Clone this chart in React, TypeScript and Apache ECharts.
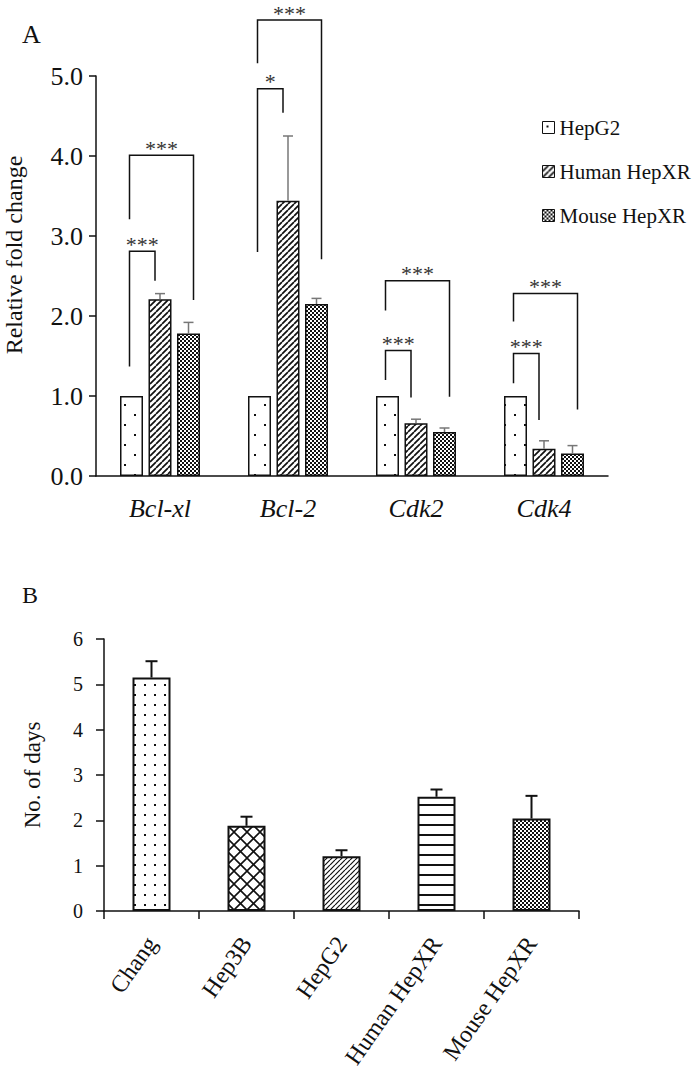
import React, { useEffect, useRef } from 'react';
import * as echarts from 'echarts';

// ---------- Panel A data ----------
const genes = ['Bcl-xl', 'Bcl-2', 'Cdk2', 'Cdk4'];
const seriesNames = ['HepG2', 'Human HepXR', 'Mouse HepXR'];
const hepg2Fold = [1.0, 1.0, 1.0, 1.0];
const humanFold = [2.21, 3.44, 0.66, 0.34];
const mouseFold = [1.78, 2.15, 0.55, 0.28];
const humanFoldErr = [0.07, 0.81, 0.05, 0.1];
const mouseFoldErr = [0.14, 0.07, 0.05, 0.1];
const foldMin = 0;
const foldMax = 5;
const foldStep = 1;

// significance brackets: gene index, compared bar (1 = Human, 2 = Mouse), foot heights and top height
const brackets = [
  { gene: 0, to: 1, left: 1.37, right: 2.44, top: 2.81, label: '***' },
  { gene: 0, to: 2, left: 3.21, right: 2.2, top: 4.01, label: '***' },
  { gene: 1, to: 1, left: 2.8, right: 4.54, top: 4.84, label: '*' },
  { gene: 1, to: 2, left: 5.16, right: 2.71, top: 5.7, label: '***' },
  { gene: 2, to: 1, left: 1.2, right: 0.98, top: 1.57, label: '***' },
  { gene: 2, to: 2, left: 2.07, right: 0.99, top: 2.44, label: '***' },
  { gene: 3, to: 1, left: 1.16, right: 0.7, top: 1.53, label: '***' },
  { gene: 3, to: 2, left: 1.93, right: 0.83, top: 2.28, label: '***' },
];

// ---------- Panel B data ----------
const cellLines = ['Chang', 'Hep3B', 'HepG2', 'Human HepXR', 'Mouse HepXR'];
const days = [5.15, 1.88, 1.21, 2.52, 2.04];
const daysErr = [0.36, 0.2, 0.13, 0.16, 0.5];
const daysMin = 0;
const daysMax = 6;
const daysStep = 1;

const FONT = "'Liberation Serif', serif";
const INK = '#111';
const BAR_W = 23;
const BAR_GAP = 5.5;
const STEP = BAR_W + BAR_GAP;

function makePattern(w: number, h: number, draw: (ctx: CanvasRenderingContext2D) => void) {
  const c = document.createElement('canvas');
  c.width = w;
  c.height = h;
  const ctx = c.getContext('2d') as CanvasRenderingContext2D;
  ctx.fillStyle = '#fff';
  ctx.fillRect(0, 0, w, h);
  ctx.fillStyle = INK;
  ctx.strokeStyle = INK;
  draw(ctx);
  return { image: c.toDataURL(), repeat: 'repeat', imageWidth: w, imageHeight: h };
}

function diag(ctx: CanvasRenderingContext2D, s: number, lw: number, back = false) {
  ctx.lineWidth = lw;
  ctx.beginPath();
  for (let k = -1; k <= 1; k++) {
    if (!back) {
      ctx.moveTo(k * s, s);
      ctx.lineTo(k * s + s, 0);
    } else {
      ctx.moveTo(k * s, 0);
      ctx.lineTo(k * s + s, s);
    }
  }
  ctx.stroke();
}

function buildPatterns() {
  return {
    sparseDots: makePattern(20, 20, (ctx) => {
      ctx.fillRect(4, 4, 2, 2);
      ctx.fillRect(14, 14, 2, 2);
    }),
    hatchA: makePattern(6, 6, (ctx) => diag(ctx, 6, 1.7)),
    checker: makePattern(4, 4, (ctx) => {
      ctx.fillRect(0, 0, 2, 2);
      ctx.fillRect(2, 2, 2, 2);
    }),
    gridDots: makePattern(10, 10, (ctx) => {
      ctx.fillRect(4, 4, 2, 2);
    }),
    lattice: makePattern(13, 13, (ctx) => {
      diag(ctx, 13, 1.6);
      diag(ctx, 13, 1.6, true);
    }),
    hatchB: makePattern(5, 5, (ctx) => diag(ctx, 5, 1.2)),
    horiz: makePattern(10, 10, (ctx) => {
      ctx.fillRect(0, 4, 10, 2);
    }),
  };
}

export default function App() {
  const ref = useRef<HTMLDivElement>(null);

  useEffect(() => {
    document.body.style.margin = '0';
    if (!ref.current) return;
    const chart = echarts.init(ref.current, null, { renderer: 'svg' });
    const P = buildPatterns();
    const foldPatterns = [P.sparseDots, P.hatchA, P.checker];
    const foldData = [hepg2Fold, humanFold, mouseFold];
    const dayPatterns = [P.gridDots, P.lattice, P.hatchB, P.horiz, P.checker];

    const axisLine = { show: true, lineStyle: { color: INK, width: 1.5 } };

    const barSeriesA = seriesNames.map((name, i) => ({
      name,
      type: 'bar',
      xAxisIndex: 0,
      yAxisIndex: 0,
      barWidth: BAR_W,
      barGap: (BAR_GAP / BAR_W) * 100 + '%',
      data: foldData[i],
      itemStyle: { color: foldPatterns[i], borderColor: INK, borderWidth: 1.5 },
      z: 2,
    }));

    const errSeriesA = [
      { idx: 1, vals: humanFold, errs: humanFoldErr },
      { idx: 2, vals: mouseFold, errs: mouseFoldErr },
    ].map((s) => ({
      name: 'err-' + seriesNames[s.idx],
      type: 'custom',
      xAxisIndex: 0,
      yAxisIndex: 0,
      z: 3,
      data: s.vals.map((v, i) => [i, v, v + s.errs[i]]),
      renderItem: (_params: any, api: any) => {
        const base = api.coord([api.value(0), api.value(1)]);
        const top = api.coord([api.value(0), api.value(2)]);
        const x = base[0] + (s.idx - 1) * STEP;
        const st = { stroke: '#777', lineWidth: 1.5 };
        return {
          type: 'group',
          children: [
            { type: 'line', shape: { x1: x, y1: base[1], x2: x, y2: top[1] }, style: st },
            { type: 'line', shape: { x1: x - 5, y1: top[1], x2: x + 5, y2: top[1] }, style: st },
          ],
        };
      },
    }));

    const bracketSeries = {
      name: 'significance',
      type: 'custom',
      xAxisIndex: 0,
      yAxisIndex: 0,
      z: 4,
      clip: false,
      data: brackets.map((b) => [b.gene, b.top]),
      renderItem: (params: any, api: any) => {
        const b = brackets[params.dataIndex];
        const c = api.coord([b.gene, 0]);
        const xl = c[0] - STEP - 2;
        const xr = c[0] + (b.to - 1) * STEP + (b.to === 2 ? 5 : -5);
        const yl = api.coord([b.gene, b.left])[1];
        const yr = api.coord([b.gene, b.right])[1];
        const yt = api.coord([b.gene, b.top])[1];
        return {
          type: 'group',
          children: [
            {
              type: 'polyline',
              shape: { points: [[xl, yl], [xl, yt], [xr, yt], [xr, yr]] },
              style: { stroke: INK, lineWidth: 1.5, fill: 'none' },
            },
            {
              type: 'text',
              style: {
                text: b.label,
                x: (xl + xr) / 2,
                y: yt - 7,
                align: 'center',
                verticalAlign: 'middle',
                fontSize: 22,
                fontFamily: FONT,
                fill: '#333',
              },
            },
          ],
        };
      },
    };

    const barSeriesB = {
      name: 'No. of days',
      type: 'bar',
      xAxisIndex: 1,
      yAxisIndex: 1,
      barWidth: 38,
      z: 2,
      data: days.map((v, i) => ({
        value: v,
        itemStyle: { color: dayPatterns[i], borderColor: INK, borderWidth: 2 },
      })),
    };

    const errSeriesB = {
      name: 'err-days',
      type: 'custom',
      xAxisIndex: 1,
      yAxisIndex: 1,
      z: 3,
      data: days.map((v, i) => [i, v, v + daysErr[i]]),
      renderItem: (_params: any, api: any) => {
        const base = api.coord([api.value(0), api.value(1)]);
        const top = api.coord([api.value(0), api.value(2)]);
        const st = { stroke: INK, lineWidth: 2 };
        return {
          type: 'group',
          children: [
            { type: 'line', shape: { x1: base[0], y1: base[1], x2: base[0], y2: top[1] }, style: st },
            { type: 'line', shape: { x1: base[0] - 6, y1: top[1], x2: base[0] + 6, y2: top[1] }, style: st },
          ],
        };
      },
    };

    const option: any = {
      animation: false,
      backgroundColor: '#fff',
      textStyle: { fontFamily: FONT, color: INK },
      title: [
        { text: 'A', left: 17, top: 16, textStyle: { fontFamily: FONT, fontSize: 26, fontWeight: 'normal', color: INK } },
        { text: 'B', left: 17, top: 578, textStyle: { fontFamily: FONT, fontSize: 24, fontWeight: 'normal', color: INK } },
      ],
      legend: {
        data: seriesNames,
        orient: 'vertical',
        left: 537,
        top: 112,
        itemWidth: 12,
        itemHeight: 12,
        itemGap: 23,
        icon: 'rect',
        selectedMode: false,
        textStyle: { fontFamily: FONT, fontSize: 21, color: INK },
        itemStyle: { borderColor: INK, borderWidth: 1 },
      },
      grid: [
        { left: 96, right: 86, top: 76, bottom: 595, containLabel: false, outerBoundsMode: 'none' },
        { left: 104, right: 115, top: 639, bottom: 160, containLabel: false, outerBoundsMode: 'none' },
      ],
      xAxis: [
        {
          type: 'category',
          gridIndex: 0,
          data: genes,
          axisLine,
          axisTick: { show: false },
          axisLabel: { fontFamily: FONT, fontSize: 26, fontStyle: 'italic', color: INK, margin: 19 },
        },
        {
          type: 'category',
          gridIndex: 1,
          data: cellLines,
          axisLine,
          axisTick: { show: true, length: 8, lineStyle: { color: INK, width: 1.5 } },
          axisLabel: { fontFamily: FONT, fontSize: 24, color: INK, rotate: 55, margin: 28, interval: 0 },
        },
      ],
      yAxis: [
        {
          type: 'value',
          gridIndex: 0,
          min: foldMin,
          max: foldMax,
          interval: foldStep,
          name: 'Relative fold change',
          nameLocation: 'middle',
          nameGap: 70,
          nameTextStyle: { fontFamily: FONT, fontSize: 24, color: INK, padding: [0, 0, 0, 42] },
          axisLine,
          axisTick: { show: true, length: 7, lineStyle: { color: INK, width: 1.5 } },
          splitLine: { show: false },
          axisLabel: {
            fontFamily: FONT,
            fontSize: 26,
            color: INK,
            margin: 13,
            formatter: (v: number) => v.toFixed(1),
          },
        },
        {
          type: 'value',
          gridIndex: 1,
          min: daysMin,
          max: daysMax,
          interval: daysStep,
          name: 'No. of days',
          nameLocation: 'middle',
          nameGap: 60,
          nameTextStyle: { fontFamily: FONT, fontSize: 23, color: INK },
          axisLine,
          axisTick: { show: true, length: 8, lineStyle: { color: INK, width: 1.5 } },
          splitLine: { show: false },
          axisLabel: { fontFamily: FONT, fontSize: 20, color: INK, margin: 21 },
        },
      ],
      series: [...barSeriesA, ...errSeriesA, bracketSeries, barSeriesB, errSeriesB],
    };

    chart.setOption(option);
    return () => chart.dispose();
  }, []);

  return <div ref={ref} style={{ width: 694, height: 1071 }} />;
}
